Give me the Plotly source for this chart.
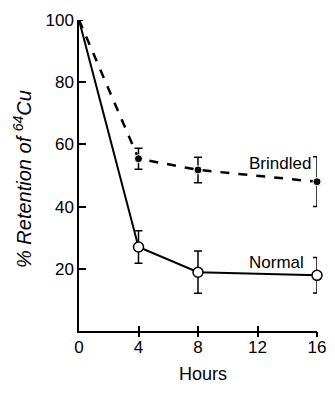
import plotly.graph_objects as go

hours = [0, 4, 8, 16]
brindled = [100, 55.4, 51.8, 48.0]
brindled_err = [0, 3.4, 4.1, 8.0]
normal = [100, 27.0, 18.9, 17.9]
normal_err = [0, 5.2, 6.8, 5.7]
x_ticks = [0, 4, 8, 12, 16]
y_ticks = [20, 40, 60, 80, 100]

FONT = "Liberation Sans, Arial, sans-serif"
# page body has an 8px margin on every side; the figure must fit inside it
OFF = 8
X0, X1, Y0, Y1 = 79, 317, 20, 331
W, H = 335 - 2 * OFF, 395 - 2 * OFF
L, R, T, B = X0 - OFF, OFF + W - X1, Y0 - OFF, OFF + H - Y1
PW, PH = X1 - X0, Y1 - Y0


def px(x):
    return (x - X0) / PW


def py(y):
    return (Y1 - y) / PH


fig = go.Figure()
fig.add_trace(go.Scatter(
    x=hours, y=brindled, mode="lines+markers",
    line=dict(color="black", width=2.5, dash="dash"),
    marker=dict(symbol="circle", size=[0, 8, 8, 8], color="black", opacity=1),
    error_y=dict(type="data", array=brindled_err, color="black", thickness=1.5, width=4),
    cliponaxis=False, showlegend=False))
fig.add_trace(go.Scatter(
    x=hours, y=normal, mode="lines+markers",
    line=dict(color="black", width=2),
    marker=dict(symbol="circle", size=[0, 10, 10, 10], color="white", opacity=1,
                line=dict(width=1.5, color="black")),
    error_y=dict(type="data", array=normal_err, color="black", thickness=1.5, width=4),
    cliponaxis=False, showlegend=False))
# invisible trace for the overlaid x axis (crossing ticks)
fig.add_trace(go.Scatter(x=[0, 16], y=[0, 0], xaxis="x2", mode="none",
                         showlegend=False, hoverinfo="skip"))

fig.update_layout(
    width=W, height=H,
    margin=dict(l=L, r=R, t=T, b=B, autoexpand=False),
    paper_bgcolor="white", plot_bgcolor="white",
    font=dict(family=FONT, size=17, color="black"),
    xaxis=dict(range=[0, 16], tickvals=x_ticks, ticktext=[str(v) for v in x_ticks],
               automargin=False,
               showgrid=False, zeroline=False, showline=True, linecolor="black", linewidth=1.5,
               ticks="inside", ticklen=5, tickwidth=1.5, tickcolor="black",
               ticklabeloverflow="allow",
               tickfont=dict(size=17, family=FONT)),
    xaxis2=dict(range=[0, 16], overlaying="x", anchor="y", side="bottom",
                automargin=False,
                tickvals=x_ticks[1:], ticks="outside", ticklen=5, tickwidth=1.5,
                tickcolor="black", showticklabels=False, showgrid=False,
                zeroline=False, showline=False),
    yaxis=dict(range=[0, 100], tickvals=y_ticks, ticktext=[str(v) for v in y_ticks],
               automargin=False,
               showgrid=False, zeroline=False, showline=True, linecolor="black", linewidth=1.5,
               ticks="inside", ticklen=7, tickwidth=1.5, tickcolor="black",
               ticklabeloverflow="allow",
               tickfont=dict(size=17, family=FONT)),
    annotations=[
        dict(text="<i>% Retention of <sup>64</sup>Cu</i>", xref="paper", yref="paper",
             x=px(22), y=py(179), xanchor="center", yanchor="middle", textangle=-90,
             showarrow=False, font=dict(size=20, family=FONT)),
        dict(text="Hours", xref="paper", yref="paper",
             x=px(203), y=py(374), xanchor="center", yanchor="middle",
             showarrow=False, font=dict(size=18, family=FONT)),
        dict(text="Brindled", x=13.5, y=54.0, xanchor="center", yanchor="middle",
             showarrow=False, font=dict(size=17, family=FONT)),
        dict(text="Normal", x=13.3, y=21.9, xanchor="center", yanchor="middle",
             showarrow=False, font=dict(size=17, family=FONT)),
    ],
)
fig.write_html("out.html")
